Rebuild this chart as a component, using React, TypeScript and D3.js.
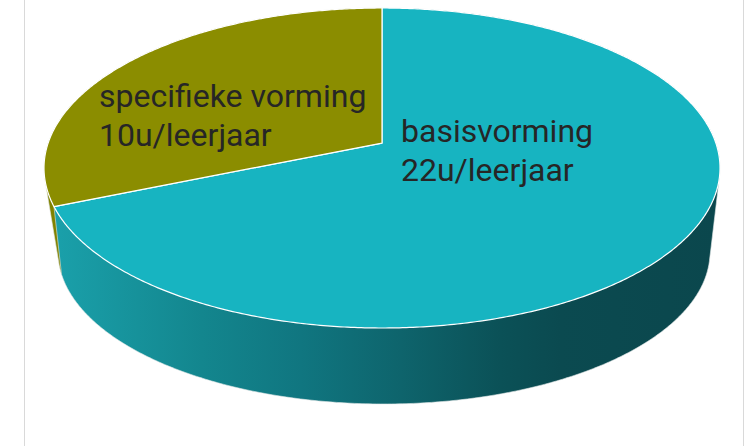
import React from 'react';
import * as d3 from 'd3';

const categories = ['basisvorming', 'specifieke vorming'];
const hours = [22, 10];
const hourLabels = ['22u/leerjaar', '10u/leerjaar'];
const topColors = ['#17b4c1', '#8b8d00'];
const sideColors = ['url(#sideTeal)', '#808200'];

const W = 750;
const H = 446;

// top and bottom rims of the disc, each as an ellipse seen in perspective
const topRim = { cx: 382, cy: 168, rx: 338, ry: 160, k: 0.156 };
const botRim = { cx: 384, cy: 252, rx: 326, ry: 152, k: 0.25 };

type Rim = typeof topRim;

function project(a: number, r: Rim): [number, number] {
  const u = Math.sin(a);
  const v = -Math.cos(a);
  const d = 1 - r.k * v;
  const X = u / d;
  const Y = v / d;
  return [
    r.cx + r.rx * Math.sqrt(1 - r.k * r.k) * X,
    r.cy - r.k * r.ry + r.ry * (1 - r.k * r.k) * Y,
  ];
}

const apex: [number, number] = [topRim.cx, topRim.cy - topRim.k * topRim.ry];

function rimPoints(a0: number, a1: number, r: Rim) {
  const n = Math.max(2, Math.ceil(Math.abs(a1 - a0) / (Math.PI / 360)));
  const pts: [number, number][] = [];
  for (let s = 0; s <= n; s++) pts.push(project(a0 + ((a1 - a0) * s) / n, r));
  return pts;
}

const App = () => {
  const arcs = d3.pie<number>().sort(null).value(d => d)(hours);
  const line = d3.line();

  // wall of a slice = hull of its top and bottom rim pieces (the back part hides under the top)
  const sidePath = (a0: number, a1: number) => {
    const hull = d3.polygonHull([...rimPoints(a0, a1, topRim), ...rimPoints(a0, a1, botRim)]);
    return line(hull as [number, number][]) + 'Z';
  };
  const topPath = (a0: number, a1: number) => line([apex, ...rimPoints(a0, a1, topRim)]) + 'Z';

  // paint the slice whose wall sits furthest back first
  const depth = (a: d3.PieArcDatum<number>) => -Math.cos((a.startAngle + a.endAngle) / 2);
  const order = arcs.map((a, i) => ({ a, i })).sort((p, q) => depth(p.a) - depth(q.a));

  const labels = [
    { x: apex[0] + 19, y: apex[1] - 1, lines: [categories[0], hourLabels[0]] },
    { x: 99, y: apex[1] - 36, lines: [categories[1], hourLabels[1]] },
  ];

  return (
    <svg width={W} height={H} style={{ position: 'absolute', left: 0, top: 0, background: '#fff' }}>
      <defs>
        <linearGradient id="sideTeal" gradientUnits="userSpaceOnUse" x1={55} y1={0} x2={720} y2={0}>
          <stop offset="0" stopColor="#1aa0aa" />
          <stop offset="0.22" stopColor="#13868e" />
          <stop offset="0.37" stopColor="#107680" />
          <stop offset="0.52" stopColor="#0e646c" />
          <stop offset="0.67" stopColor="#0b5157" />
          <stop offset="0.76" stopColor="#0b4a50" />
          <stop offset="1" stopColor="#0b474d" />
        </linearGradient>
      </defs>
      <line x1={24.5} x2={24.5} y1={0} y2={H} stroke="#d9d9d9" strokeWidth={1} />
      <line x1={743.5} x2={743.5} y1={0} y2={H} stroke="#d9d9d9" strokeWidth={1} />
      <g>
        {order.map(({ a, i }) => (
          <path
            key={i}
            d={sidePath(a.startAngle, a.endAngle)}
            fill={sideColors[i]}
            stroke="#e2e8e8"
            strokeWidth={0.6}
            strokeLinejoin="round"
          />
        ))}
      </g>
      <g>
        {arcs.map((a, i) => (
          <path
            key={i}
            d={topPath(a.startAngle, a.endAngle)}
            fill={topColors[i]}
            stroke="#ffffff"
            strokeWidth={1.2}
            strokeLinejoin="round"
          />
        ))}
      </g>
      <g fontFamily="Roboto, sans-serif" fontSize={32} fill="#262626">
        {labels.map((l, i) => (
          <text key={i} x={l.x} y={l.y}>
            {l.lines.map((t, j) => (
              <tspan key={j} x={l.x} dy={j === 0 ? 0 : 38.5}>
                {t}
              </tspan>
            ))}
          </text>
        ))}
      </g>
    </svg>
  );
};

export default App;
